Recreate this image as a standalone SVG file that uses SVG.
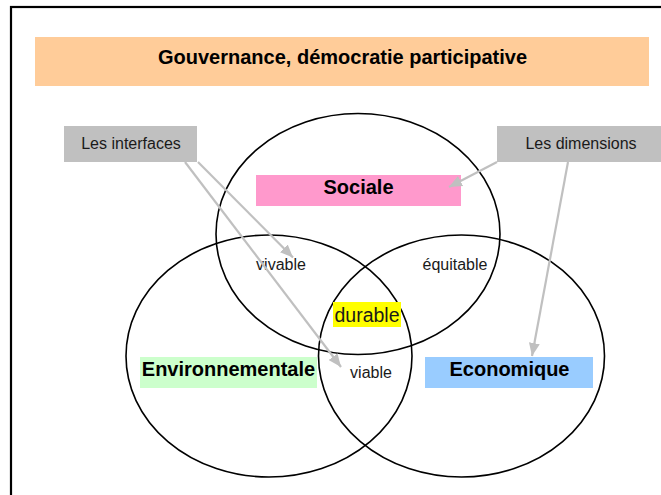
<svg xmlns="http://www.w3.org/2000/svg" width="661" height="495" viewBox="0 0 661 495">
<style>
  text { font-family: "Liberation Sans", Arial, sans-serif; fill: #000; }
  .title { font-size: 20px; font-weight: bold; text-anchor: middle; }
  .dim { font-size: 20px; font-weight: bold; text-anchor: middle; }
  .lbl { font-size: 16px; text-anchor: middle; fill: #1a1a1a; }
  .circ { fill: none; stroke: #000; stroke-width: 1.6; }
  .conn { stroke: #C0C0C0; stroke-width: 2.2; fill: none; marker-end: url(#arr); }
  .gray { fill: #C0C0C0; }
</style>
<defs>
  <marker id="arr" markerUnits="userSpaceOnUse" markerWidth="14" markerHeight="12" refX="13" refY="6" orient="auto">
    <path d="M0,0.5 L13,6 L0,11.5 z" fill="#C0C0C0"/>
  </marker>
</defs>
<rect x="0" y="0" width="661" height="495" fill="#fff"/>
<rect x="11" y="7" width="700" height="600" fill="none" stroke="#000" stroke-width="2.2"/>

<g id="title">
  <rect x="35" y="37" width="614" height="49" fill="#FFCC99"/>
  <text class="title" x="342.5" y="63.5">Gouvernance, démocratie participative</text>
</g>

<g id="circle-sociale">
  <ellipse class="circ" cx="358" cy="234" rx="142" ry="120.5"/>
</g>
<g id="circle-environnementale">
  <ellipse class="circ" cx="269" cy="356" rx="143" ry="121"/>
</g>
<g id="circle-economique">
  <ellipse class="circ" cx="461.5" cy="356" rx="143" ry="121"/>
</g>

<g id="sociale">
  <rect x="256" y="175" width="205" height="31" fill="#FF99CC"/>
  <text class="dim" x="358.5" y="193.5">Sociale</text>
</g>
<g id="environnementale">
  <rect x="140" y="357" width="177" height="31" fill="#CCFFCC"/>
  <text class="dim" x="228.5" y="376">Environnementale</text>
</g>
<g id="economique">
  <rect x="425" y="357" width="168" height="31" fill="#99CCFF"/>
  <text class="dim" x="509.5" y="376">Economique</text>
</g>
<g id="durable">
  <rect x="333" y="302" width="68" height="25" fill="#FFFF00"/>
  <text class="lbl" style="font-size:19.5px" x="367" y="321.5">durable</text>
</g>
<g id="vivable">
  <text class="lbl" x="281" y="269.5">vivable</text>
</g>
<g id="equitable">
  <text class="lbl" x="455" y="269.5">équitable</text>
</g>
<g id="viable">
  <text class="lbl" x="371" y="377.5">viable</text>
</g>

<g id="les-interfaces">
  <rect class="gray" x="64" y="126" width="133" height="36"/>
  <text class="lbl" x="131" y="149">Les interfaces</text>
</g>
<g id="les-dimensions">
  <rect class="gray" x="497" y="126" width="168" height="36"/>
  <text class="lbl" x="581" y="149">Les dimensions</text>
</g>

<g id="connectors">
  <line class="conn" x1="198" y1="162" x2="293" y2="257.5"/>
  <line class="conn" x1="185" y1="162" x2="341" y2="367"/>
  <line class="conn" x1="497" y1="162" x2="449" y2="187"/>
  <line class="conn" x1="568" y1="162" x2="532" y2="356"/>
</g>
</svg>
